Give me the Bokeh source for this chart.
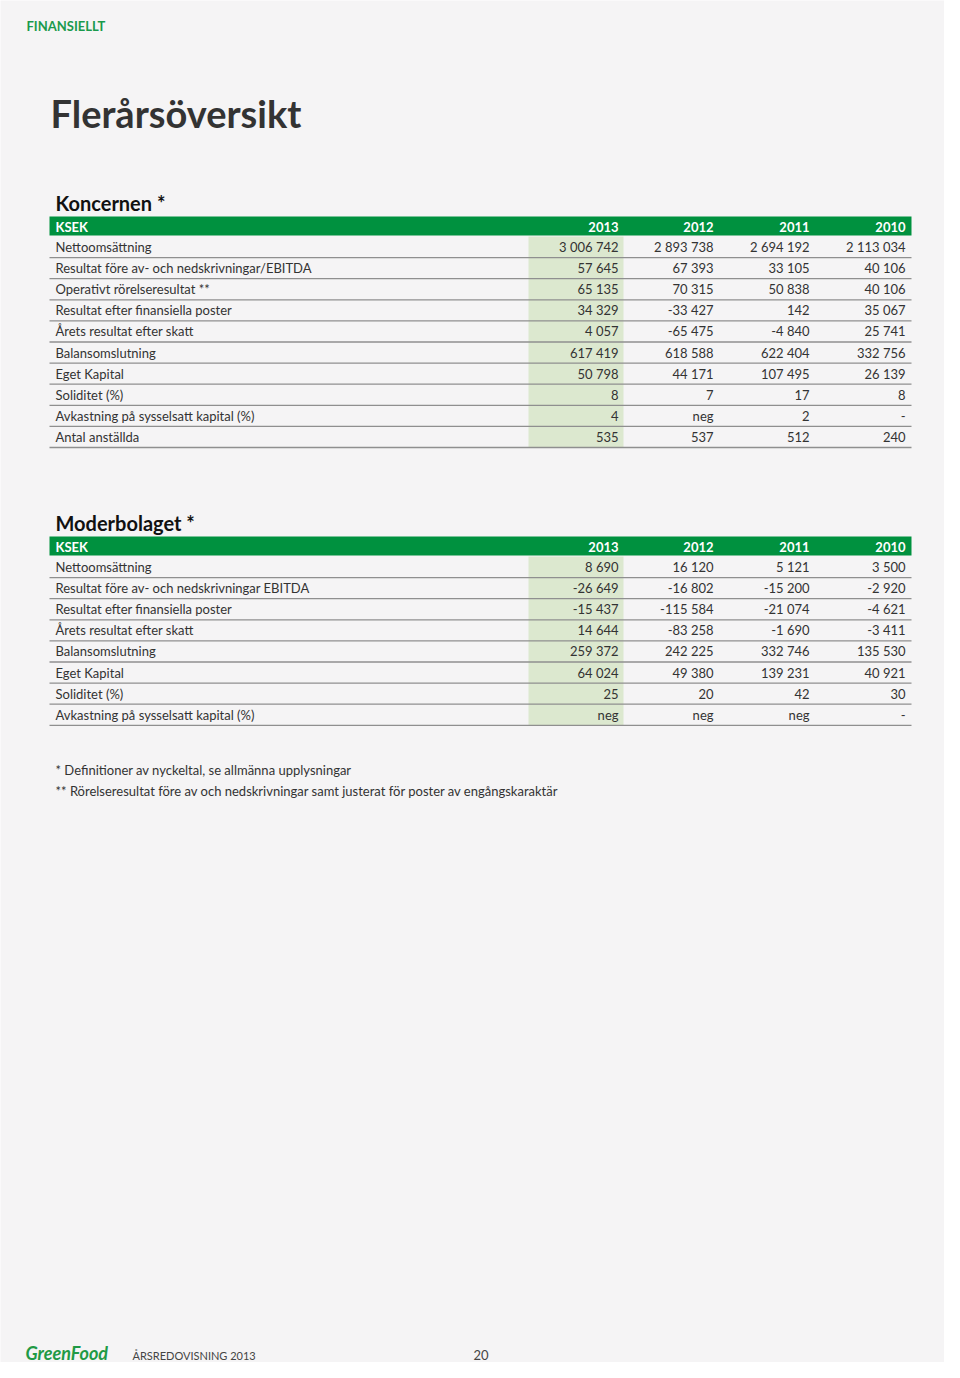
from bokeh.plotting import figure
from bokeh.models import Range1d, ColumnDataSource
from bokeh.core.properties import value
from bokeh.embed import file_html
from bokeh.resources import INLINE

# ---------------- data ----------------
years = ["2013", "2012", "2011", "2010"]

kon_labels = [
    "Nettoomsättning",
    "Resultat före av- och nedskrivningar/EBITDA",
    "Operativt rörelseresultat **",
    "Resultat efter finansiella poster",
    "Årets resultat efter skatt",
    "Balansomslutning",
    "Eget Kapital",
    "Soliditet (%)",
    "Avkastning på sysselsatt kapital (%)",
    "Antal anställda",
]
kon_2013 = ["3 006 742", "57 645", "65 135", "34 329", "4 057", "617 419", "50 798", "8", "4", "535"]
kon_2012 = ["2 893 738", "67 393", "70 315", "-33 427", "-65 475", "618 588", "44 171", "7", "neg", "537"]
kon_2011 = ["2 694 192", "33 105", "50 838", "142", "-4 840", "622 404", "107 495", "17", "2", "512"]
kon_2010 = ["2 113 034", "40 106", "40 106", "35 067", "25 741", "332 756", "26 139", "8", "-", "240"]

mod_labels = [
    "Nettoomsättning",
    "Resultat före av- och nedskrivningar EBITDA",
    "Resultat efter finansiella poster",
    "Årets resultat efter skatt",
    "Balansomslutning",
    "Eget Kapital",
    "Soliditet (%)",
    "Avkastning på sysselsatt kapital (%)",
]
mod_2013 = ["8 690", "-26 649", "-15 437", "14 644", "259 372", "64 024", "25", "neg"]
mod_2012 = ["16 120", "-16 802", "-115 584", "-83 258", "242 225", "49 380", "20", "neg"]
mod_2011 = ["5 121", "-15 200", "-21 074", "-1 690", "332 746", "139 231", "42", "neg"]
mod_2010 = ["3 500", "-2 920", "-4 621", "-3 411", "135 530", "40 921", "30", "-"]

footnotes = [
    "* Definitioner av nyckeltal, se allmänna upplysningar",
    "** Rörelseresultat före av och nedskrivningar samt justerat för poster av engångskaraktär",
]

# ---------------- style ----------------
BG = "#f5f4f5"
GREEN = "#00913f"
HILITE = "#dce8cf"
TEXT = "#333333"
LINE = "#8f8f8f"
FONT = value("Lato")

W, H = 944, 1362
p = figure(width=W, height=H, x_range=Range1d(0, W), y_range=Range1d(H, 0),
           output_backend="svg", toolbar_location=None, min_border=0)
p.axis.visible = False
p.grid.visible = False
p.outline_line_color = None
p.background_fill_color = BG
p.border_fill_color = BG

TL, TR = 49, 911
col_x = [618, 713, 809, 905]
ROW_H = 21.1


def txt(x, y, s, size, color=TEXT, style="normal", align="left", font=FONT):
    p.text(x=[x], y=[y], text=[s], text_font=font, text_font_size=size,
           text_color=color, text_font_style=style, text_align=align,
           text_baseline="middle")


def table(title, title_y, bar_top, labels, cols):
    txt(55, title_y, title, "20px", color="#111111", style="bold")
    bar_bot = bar_top + 19
    p.quad(left=[TL], right=[TR], top=[bar_top], bottom=[bar_bot],
           fill_color=GREEN, line_color=None)
    txt(55, bar_top + 10, "KSEK", "13px", color="white", style="bold")
    for x, yr in zip(col_x, years):
        txt(x, bar_top + 10, yr, "13px", color="white", style="bold", align="right")
    n = len(labels)
    first = bar_bot + 1 + ROW_H / 2
    ys = [first + i * ROW_H for i in range(n)]
    p.quad(left=[528], right=[623], top=[bar_bot + 1], bottom=[ys[-1] + ROW_H / 2],
           fill_color=HILITE, line_color=None)
    line_y = [y + ROW_H / 2 for y in ys]
    p.segment(x0=[TL] * n, x1=[TR] * n, y0=line_y, y1=line_y,
              line_color=LINE, line_width=1.3)
    src = ColumnDataSource(dict(y=ys, lab=labels))
    p.text(x=55, y="y", text="lab", source=src, text_font=FONT, text_font_size="13px",
           text_color=TEXT, text_baseline="middle")
    for x, vals in zip(col_x, cols):
        s = ColumnDataSource(dict(y=ys, v=vals))
        p.text(x=x, y="y", text="v", source=s, text_font=FONT, text_font_size="13px",
               text_color=TEXT, text_baseline="middle", text_align="right")


# header
txt(26, 25, "FINANSIELLT", "13px", color="#1a9a4c", style="bold")
txt(50, 112, "Flerårsöversikt", "38px", color="#333333", style="bold")

table("Koncernen *", 202, 216, kon_labels, [kon_2013, kon_2012, kon_2011, kon_2010])
table("Moderbolaget *", 522, 536, mod_labels, [mod_2013, mod_2012, mod_2011, mod_2010])

for i, f in enumerate(footnotes):
    txt(55, 769 + i * 21, f, "13px")

# footer
txt(25, 1352, "GreenFood", "18px", color="#1f9a45", style="bold italic")
txt(132, 1355, "ÅRSREDOVISNING 2013", "11px", color="#444444")
txt(473, 1354, "20", "13px", color="#444444")

open("out.html", "w").write(file_html(p, INLINE))
